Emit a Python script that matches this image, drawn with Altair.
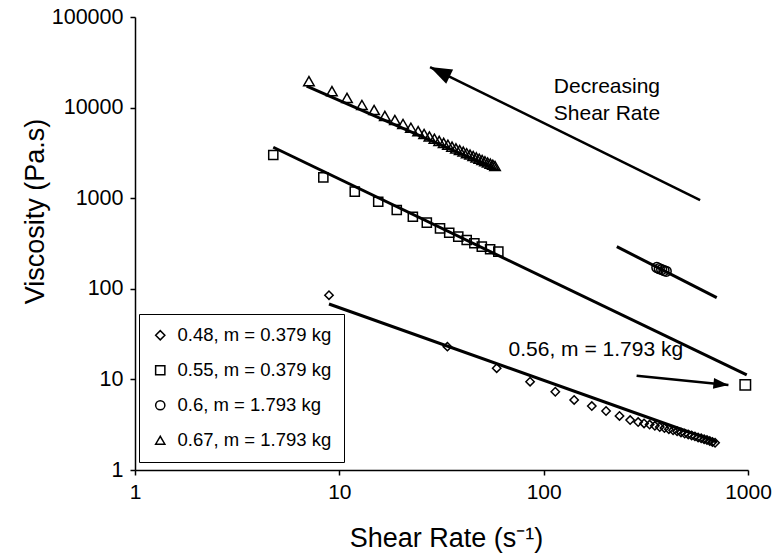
import altair as alt
import pandas as pd

# ---------------- data ----------------
series_labels = ["0.48, m = 0.379 kg", "0.55, m = 0.379 kg", "0.6, m = 1.793 kg", "0.67, m = 1.793 kg"]
series_shapes = ["diamond", "square", "circle", "triangle-up"]
series_sizes = [70, 110, 100, 110]

dia_x = [8.9, 33.8, 58.9, 85.8, 114, 141, 172, 202, 235, 265, 290, 310, 330, 350, 370, 390,
         410, 430, 450, 470, 490, 510, 530, 550, 570, 590, 610, 630, 650, 670, 690]
dia_y = [85, 23.0, 13.3, 9.44, 7.31, 5.93, 5.08, 4.48, 3.95, 3.56, 3.38, 3.27, 3.17, 3.07, 2.98, 2.90,
         2.82, 2.74, 2.67, 2.60, 2.53, 2.47, 2.41, 2.35, 2.29, 2.24, 2.19, 2.14, 2.09, 2.04, 2.00]

sq_x = [4.75, 8.35, 11.9, 15.5, 19.1, 22.9, 26.8, 31.1, 34.5, 38.2, 42.0, 45.8, 49.8, 54.7, 60.0]
sq_y = [3000, 1700, 1180, 915, 740, 625, 537, 465, 416, 376, 346, 318, 292, 273, 257]

circ_x = [358, 368, 378, 388, 398]
circ_y = [172, 167, 163, 159, 156]

tri_x = [7.1, 9.2, 10.9, 12.9, 14.8, 16.7, 18.7, 20.5, 22.4, 24.3, 26.0, 27.6, 29.2, 30.8, 32.4, 34.0,
         35.6, 37.2, 38.8, 40.4, 42.0, 43.6, 45.2, 46.8, 48.4, 50.0, 51.6, 53.2, 54.8, 56.4, 57.8]
tri_y = [19600, 15200, 12800, 10700, 9400, 8100, 7300, 6600, 6000, 5500, 5110, 4800, 4530, 4290, 4080, 3890,
         3710, 3550, 3400, 3270, 3140, 3030, 2920, 2820, 2730, 2640, 2560, 2480, 2410, 2340, 2270]

# single point of the 0.56 sample
p056_x = [970]
p056_y = [8.7]

# power-law trend lines (start, end)
fit_dia_x, fit_dia_y = [8.9, 700], [68, 2.05]
fit_sq_x, fit_sq_y = [4.75, 986], [3650, 11.2]
fit_circ_x, fit_circ_y = [228, 703], [292, 79.8]
fit_tri_x, fit_tri_y = [6.92, 57], [17300, 2150]

# arrows (tail, tip)
arrow_big_x, arrow_big_y = [583, 27.8], [955, 28000]
arrow_small_x, arrow_small_y = [285, 802], [11.0, 8.67]
arrow_angles = [296, 96]
arrow_sizes = [1900, 900]

# annotations
note_text = ["Decreasing", "Shear Rate", "0.56, m = 1.793 kg"]
note_x = [204, 204, 180]
note_y = [16900, 8490, 21.1]

x_ticks = [1, 10, 100, 1000]
y_ticks = [1, 10, 100, 1000, 10000, 100000]

FONT = "Liberation Sans"

# ---------------- tables ----------------
pts = []
for lab, xs_, ys_ in zip(series_labels, [dia_x, sq_x, circ_x, tri_x], [dia_y, sq_y, circ_y, tri_y]):
    for a, b in zip(xs_, ys_):
        pts.append({"x": a, "y": b, "series": lab})
df_pts = pd.DataFrame(pts)

fits = []
for name, xs_, ys_ in [("dia", fit_dia_x, fit_dia_y), ("sq", fit_sq_x, fit_sq_y),
                       ("circ", fit_circ_x, fit_circ_y), ("tri", fit_tri_x, fit_tri_y)]:
    for a, b in zip(xs_, ys_):
        fits.append({"x": a, "y": b, "fit": name})
df_fit = pd.DataFrame(fits)

shafts = []
for name, xs_, ys_ in [("big", arrow_big_x, arrow_big_y), ("small", arrow_small_x, arrow_small_y)]:
    for a, b in zip(xs_, ys_):
        shafts.append({"x": a, "y": b, "arrow": name})
df_shaft = pd.DataFrame(shafts)

df_head = pd.DataFrame({
    "x": [arrow_big_x[1], arrow_small_x[1]],
    "y": [arrow_big_y[1], arrow_small_y[1]],
    "ang": arrow_angles,
    "sz": arrow_sizes,
})

df_p056 = pd.DataFrame({"x": p056_x, "y": p056_y})
df_note = pd.DataFrame({"x": note_x, "y": note_y, "t": note_text})

# ---------------- encodings ----------------
xs = alt.Scale(type="log", domain=[1, 1000])
ys = alt.Scale(type="log", domain=[1, 100000])

x_axis = alt.Axis(values=x_ticks, format="d", title="Shear Rate (s\u207B\u00B9)", grid=False,
                  labelFlush=False, tickSize=5, labelPadding=6,
                  labelFont=FONT, labelFontSize=21, labelColor="black",
                  titleFont=FONT, titleFontSize=27, titleFontWeight="normal", titleColor="black",
                  domainColor="black", tickColor="black", domainWidth=1.5, tickWidth=1.5,
                  titleX=311, titleY=68, titleBaseline="middle", titleAlign="center")
y_axis = alt.Axis(values=y_ticks, format="d", title="Viscosity (Pa.s)", grid=False,
                  tickSize=5, labelPadding=7,
                  labelFont=FONT, labelFontSize=21.5, labelColor="black",
                  titleFont=FONT, titleFontSize=27, titleFontWeight="normal", titleColor="black",
                  domainColor="black", tickColor="black", domainWidth=1.5, tickWidth=1.5,
                  titleX=-100, titleY=194, titleAngle=-90, titleBaseline="middle", titleAlign="center")

X = alt.X("x:Q", scale=xs, axis=x_axis)
Y = alt.Y("y:Q", scale=ys, axis=y_axis)
Xn = alt.X("x:Q", scale=xs)
Yn = alt.Y("y:Q", scale=ys)

points = alt.Chart(df_pts).mark_point(filled=False, color="black", strokeWidth=1.5, opacity=1).encode(
    x=X, y=Y,
    shape=alt.Shape("series:N", scale=alt.Scale(domain=series_labels, range=series_shapes),
                    legend=alt.Legend(title=None, orient="none", legendX=4, legendY=297,
                                      fillColor="white", strokeColor="black", padding=12,
                                      rowPadding=16, labelFont=FONT, labelFontSize=18.5,
                                      labelColor="black",
                                      symbolSize=85, symbolStrokeWidth=1.5, symbolStrokeColor="black",
                                      symbolFillColor="white", labelOffset=8, cornerRadius=0)),
    size=alt.Size("series:N", scale=alt.Scale(domain=series_labels, range=series_sizes), legend=None),
)

p056 = alt.Chart(df_p056).mark_point(shape="square", filled=False, color="black", strokeWidth=1.5,
                                      size=110, opacity=1).encode(x=Xn, y=Yn)

lines = alt.Chart(df_fit).mark_line(color="black", strokeWidth=3).encode(x=Xn, y=Yn, detail="fit:N")

shaft = alt.Chart(df_shaft).mark_line(color="black", strokeWidth=2.5).encode(x=Xn, y=Yn, detail="arrow:N")

heads = alt.Chart(df_head).mark_point(shape="M0,0L0.36,1L-0.36,1Z", filled=True, color="black",
                                      opacity=1, strokeWidth=0).encode(
    x=Xn, y=Yn,
    angle=alt.Angle("ang:Q", scale=None),
    size=alt.Size("sz:Q", scale=None, legend=None),
)

notes = alt.Chart(df_note).mark_text(font=FONT, fontSize=21, color="black", align="center",
                                     baseline="middle").encode(x=Xn, y=Yn, text="t:N")

chart = alt.layer(points, p056, lines, shaft, heads, notes).resolve_scale(size="independent").properties(
    width=613, height=453,
    autosize=alt.AutoSizeParams(type="none"),
    padding={"left": 135, "top": 17, "right": 35, "bottom": 86},
    background="white",
).configure_view(stroke=None)

chart.save("out.html", embed_options={"renderer": "svg", "actions": False})
